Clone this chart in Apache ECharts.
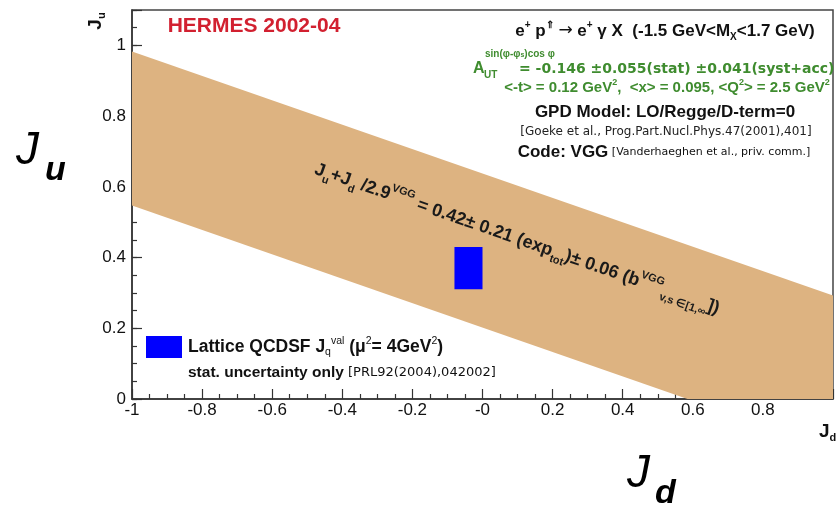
<!DOCTYPE html>
<html><head><meta charset="utf-8">
<script src="https://cdn.jsdelivr.net/npm/echarts@6/dist/echarts.min.js"></script>
<style>html,body{margin:0;padding:0;background:#fff}#c{width:836px;height:505px}</style>
</head><body><div id="c"></div>
<script>
// Band of allowed (Jd, Ju): polygon vertices
const bandJd = [-1, 1, 1, 0.585, -1];
const bandJu = [0.983, 0.293, 0, 0, 0.547];
// Lattice QCDSF box
const latticeJd = [-0.08, 0.0];
const latticeJu = [0.31, 0.43];
// axis settings
const xRange = [-1, 1];
const yRange = [0, 1.1];

const BAND = '#ddb381', BLUE = '#0000ff', GREEN = '#3f8c2f', RED = '#d22030';
const F = 'Liberation Sans';
const chart = echarts.init(document.getElementById('c'), null, {renderer: 'canvas'});

function tok(size, weight, va, extra) {
  return Object.assign({fontSize: size, fontWeight: weight || 'normal', fontFamily: F, lineHeight: size, verticalAlign: va || 'middle'}, extra || {});
}

const graphics = [
  {type: 'text', x: 254, y: 26, style: {text: 'HERMES 2002-04', fill: RED, fontSize: 21, fontWeight: 'bold', fontFamily: F, align: 'center', verticalAlign: 'middle'}},
  {type: 'text', x: 665, y: 31, style: {
    text: '{m|e}{sp|+}{m| p}{sp|⇑}{m| }{ar|→}{m| e}{sp|+}{m| γ X  (-1.5 GeV<M}{sb|X}{m|<1.7 GeV)}',
    fill: '#111', align: 'center', verticalAlign: 'middle',
    rich: {m: tok(17, 'bold', 'middle', {lineHeight: 22}), ar: tok(17, 'normal', 'middle', {fontFamily: 'DejaVu Sans', lineHeight: 22}), sp: tok(10, 'bold', 'top', {lineHeight: 11}), sb: tok(10, 'bold', 'bottom', {lineHeight: 11})}}},
  // A_UT line
  {type: 'text', x: 473, y: 69, style: {text: 'A', fill: GREEN, fontSize: 16, fontWeight: 'bold', fontFamily: F, align: 'left', verticalAlign: 'middle'}},
  {type: 'text', x: 484, y: 75, style: {text: 'UT', fill: GREEN, fontSize: 10, fontWeight: 'bold', fontFamily: F, align: 'left', verticalAlign: 'middle'}},
  {type: 'text', x: 485, y: 54, style: {text: 'sin(φ-φ{s|s})cos φ', fill: GREEN, fontSize: 10, fontWeight: 'bold', fontFamily: F, align: 'left', verticalAlign: 'middle',
    rich: {s: tok(7, 'bold', 'bottom')}}},
  {type: 'text', x: 519, y: 69, style: {text: '= -0.146 ±0.055(stat) ±0.041(syst+acc)', fill: GREEN, fontSize: 14, fontWeight: 'bold', fontFamily: 'DejaVu Sans', align: 'left', verticalAlign: 'middle'}},
  {type: 'text', x: 667, y: 88, style: {
    text: '{m|<-t> = 0.12 GeV}{sp|2}{m|,  <x> = 0.095, <Q}{sp|2}{m|> = 2.5 GeV}{sp|2}',
    fill: GREEN, align: 'center', verticalAlign: 'middle',
    rich: {m: tok(15, 'bold', 'middle', {lineHeight: 20}), sp: tok(9, 'bold', 'top', {lineHeight: 10})}}},
  {type: 'text', x: 665, y: 112, style: {text: 'GPD Model: LO/Regge/D-term=0', fill: '#111', fontSize: 17, fontWeight: 'bold', fontFamily: F, align: 'center', verticalAlign: 'middle'}},
  {type: 'text', x: 666, y: 132, style: {text: '[Goeke et al., Prog.Part.Nucl.Phys.47(2001),401]', fill: '#222', fontSize: 12, fontFamily: 'DejaVu Sans', align: 'center', verticalAlign: 'middle'}},
  {type: 'text', x: 664, y: 152, style: {
    text: '{b|Code: VGG}{s| [Vanderhaeghen et al., priv. comm.]}',
    fill: '#111', align: 'center', verticalAlign: 'middle',
    rich: {b: tok(17, 'bold', 'middle', {lineHeight: 20}), s: tok(11, 'normal', 'middle', {fontFamily: 'DejaVu Sans', lineHeight: 20})}}},
  // rotated band annotation
  {type: 'text', x: 517, y: 239, rotation: -0.335, style: {
    text: '{m|J}{sb|u}{m|+J}{sb|d}{m| /2.9}{sp|VGG}{m| = 0.42± 0.21 (exp}{sb|tot}{m|)± 0.06 (b}{sp|VGG}{sb|v,s ∈[1,∞}{m|])}',
    fill: '#1a1a1a', align: 'center', verticalAlign: 'middle',
    rich: {m: tok(18, 'bold', 'middle', {lineHeight: 26}), sp: tok(11, 'bold', 'top', {lineHeight: 12}), sb: tok(11, 'bold', 'bottom', {lineHeight: 14})}}},
  // legend
  {type: 'rect', shape: {x: 146, y: 336, width: 36, height: 22}, style: {fill: BLUE}},
  {type: 'text', x: 188, y: 347, style: {
    text: '{m|Lattice QCDSF J}{sb|q}{sp|val}{m| (μ}{sp|2}{m|= 4GeV}{sp|2}{m|)}',
    fill: '#111', align: 'left', verticalAlign: 'middle',
    rich: {m: tok(17.5, 'bold', 'middle', {lineHeight: 22}), sp: tok(10.5, 'normal', 'top', {lineHeight: 11}), sb: tok(10.5, 'normal', 'bottom', {lineHeight: 11})}}},
  {type: 'text', x: 188, y: 373, style: {
    text: '{b|stat. uncertainty only}{s| [PRL92(2004),042002]}',
    fill: '#111', align: 'left', verticalAlign: 'middle',
    rich: {b: tok(15.5, 'bold', 'middle', {lineHeight: 20}), s: tok(13, 'normal', 'middle', {fontFamily: 'DejaVu Sans', lineHeight: 20})}}},
  // large axis titles
  {type: 'text', x: 16, y: 128, style: {
    text: '{J|J}{u|u}', fill: '#000', align: 'left', verticalAlign: 'top',
    rich: {J: tok(46, 'normal', 'top', {fontStyle: 'italic', lineHeight: 46}), u: tok(34, 'bold', 'bottom', {fontStyle: 'italic', lineHeight: 60, padding: [0, 0, 0, 6]})}}},
  {type: 'text', x: 627, y: 451, style: {
    text: '{J|J}{d|d}', fill: '#000', align: 'left', verticalAlign: 'top',
    rich: {J: tok(46, 'normal', 'top', {fontStyle: 'italic', lineHeight: 46}), d: tok(34, 'bold', 'bottom', {fontStyle: 'italic', lineHeight: 60, padding: [0, 0, 0, 5]})}}},
  // small axis titles
  {type: 'text', x: 96, y: 21, rotation: Math.PI / 2, style: {
    text: '{J|J}{s|u}', fill: '#111', align: 'center', verticalAlign: 'middle',
    rich: {J: tok(19, 'bold', 'middle', {lineHeight: 22}), s: tok(11, 'bold', 'bottom', {lineHeight: 12})}}},
  {type: 'text', x: 819, y: 432, style: {
    text: '{J|J}{s|d}', fill: '#111', align: 'left', verticalAlign: 'middle',
    rich: {J: tok(19, 'bold', 'middle', {lineHeight: 22}), s: tok(11, 'bold', 'bottom', {lineHeight: 12})}}}
].map(g => Object.assign({z: 100}, g));

const axisCol = '#333';
chart.setOption({
  animation: false,
  backgroundColor: '#fff',
  grid: {left: 132, top: 10, width: 708, height: 389, show: true, borderColor: '#444', borderWidth: 1.5, backgroundColor: 'transparent'},
  xAxis: {
    type: 'value', min: xRange[0], max: xRange[1], interval: 0.2,
    axisLine: {show: true, onZero: false, lineStyle: {color: axisCol, width: 1.5}},
    axisTick: {show: true, inside: true, length: 10, lineStyle: {color: axisCol, width: 1.2}},
    minorTick: {show: true, splitNumber: 4, length: 5, lineStyle: {color: axisCol, width: 1.2}},
    splitLine: {show: false}, minorSplitLine: {show: false},
    axisLabel: {margin: 3, fontSize: 17, color: '#111', fontFamily: F,
      formatter: v => Math.abs(v) < 1e-9 ? '-0' : (v > 0.99 ? '' : String(+v.toFixed(1)))}
  },
  yAxis: [{
    type: 'value', min: yRange[0], max: yRange[1], interval: 0.2,
    axisLine: {show: true, onZero: false, lineStyle: {color: axisCol, width: 1.5}},
    axisTick: {show: true, inside: true, length: 10, lineStyle: {color: axisCol, width: 1.2}},
    splitLine: {show: false},
    axisLabel: {margin: 6, fontSize: 17, color: '#111', fontFamily: F,
      formatter: v => v > 1.05 ? '' : String(+v.toFixed(1))}
  }, {
    type: 'value', min: yRange[0], max: yRange[1], interval: 0.05, position: 'left',
    axisLine: {show: false, onZero: false}, axisLabel: {show: false}, splitLine: {show: false},
    axisTick: {show: true, inside: true, length: 5, lineStyle: {color: axisCol, width: 1.2}}
  }],
  series: [{
    type: 'custom', coordinateSystem: 'cartesian2d', silent: true, z: 1,
    data: bandJd.map((x, i) => [x, bandJu[i]]),
    renderItem: (params, api) => {
      if (params.dataIndex !== 0) return null;
      const pts = bandJd.map((x, i) => api.coord([x, bandJu[i]]));
      return {type: 'polygon', shape: {points: pts}, style: {fill: BAND}};
    }
  }, {
    type: 'custom', coordinateSystem: 'cartesian2d', silent: true, z: 2,
    data: [[latticeJd[0], latticeJd[1], latticeJu[0], latticeJu[1]]],
    encode: {x: [0, 1], y: [2, 3]},
    renderItem: (params, api) => {
      const a = api.coord([api.value(0), api.value(3)]);
      const b = api.coord([api.value(1), api.value(2)]);
      return {type: 'rect', shape: {x: a[0], y: a[1], width: b[0] - a[0], height: b[1] - a[1]}, style: {fill: BLUE}};
    }
  }],
  graphic: {elements: graphics}
});
</script>
</body></html>
